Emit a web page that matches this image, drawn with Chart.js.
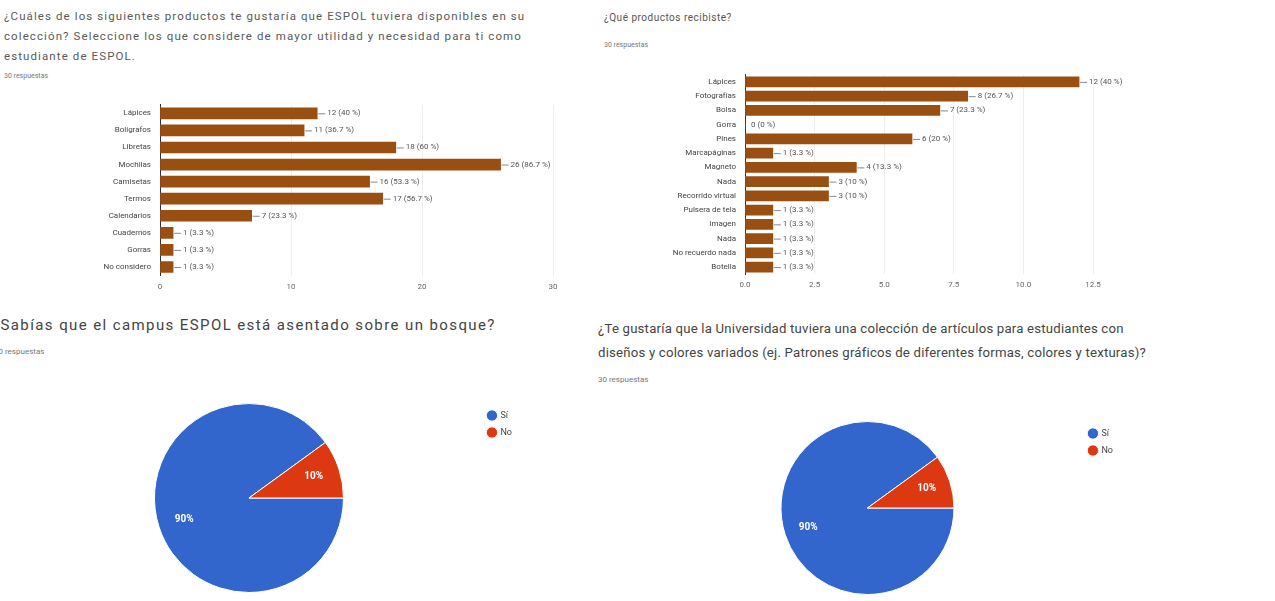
<!DOCTYPE html>
<html lang="es">
<head>
<meta charset="utf-8">
<script src="https://cdn.jsdelivr.net/npm/chart.js@4.4.0/dist/chart.umd.min.js"></script>
<style>
  html,body{margin:0;padding:0;background:#fff;width:1275px;height:601px;overflow:hidden;font-family:Roboto,"Noto Sans",Arial,sans-serif;}
  .t{position:absolute;color:#4a4a4a;white-space:nowrap;}
  .s{position:absolute;color:#777;font-size:7px;}
  canvas{position:absolute;}
</style>
</head>
<body>
<div class="t" style="left:4px;top:6px;font-size:11.5px;letter-spacing:1.1px;line-height:20px;color:#5a5a5a">¿Cuáles de los siguientes productos te gustaría que ESPOL tuviera disponibles en su<br>colección? Seleccione los que considere de mayor utilidad y necesidad para ti como<br>estudiante de ESPOL.</div>
<div class="s" style="left:4px;top:72px;">30 respuestas</div>

<div class="t" style="left:604px;top:12px;font-size:10px;letter-spacing:0.5px;color:#555">¿Qué productos recibiste?</div>
<div class="s" style="left:604px;top:41px;">30 respuestas</div>

<div class="t" style="left:-8px;top:316px;font-size:15px;letter-spacing:1.4px;color:#444">¿Sabías que el campus ESPOL está asentado sobre un bosque?</div>
<div class="s" style="left:-6px;top:347px;font-size:8px">30 respuestas</div>

<div class="t" style="left:598px;top:317px;font-size:13.2px;letter-spacing:0.2px;line-height:24px;color:#444">¿Te gustaría que la Universidad tuviera una colección de artículos para estudiantes con<br>diseños y colores variados (ej. Patrones gráficos de diferentes formas, colores y texturas)?</div>
<div class="s" style="left:598px;top:375px;font-size:8px">30 respuestas</div>

<canvas id="c1" style="left:0;top:91px;width:600px;height:209px" width="600" height="209"></canvas>
<canvas id="c2" style="left:600px;top:61px;width:675px;height:234px" width="675" height="234"></canvas>
<canvas id="c3" style="left:18px;top:403px;width:504px;height:190px" width="504" height="190"></canvas>
<canvas id="c4" style="left:654px;top:421px;width:469px;height:174px" width="469" height="174"></canvas>

<script>
// ---- Data ----
const productosDeseados = ["Lápices","Bolígrafos","Libretas","Mochilas","Camisetas","Termos","Calendarios","Cuadernos","Gorras","No considero"];
const votosDeseados = [12,11,18,26,16,17,7,1,1,1];
const ticksDeseados = [0,10,20,30];

const productosRecibidos = ["Lápices","Fotografías","Bolsa","Gorra","Pines","Marcapáginas","Magneto","Nada","Recorrido virtual","Pulsera de tela","Imagen","Nada","No recuerdo nada","Botella"];
const votosRecibidos = [12,8,7,0,6,1,4,3,3,1,1,1,1,1];

const respuestasBosque = ["Sí","No"];
const valoresBosque = [90,10];

const respuestasColeccion = ["Sí","No"];
const valoresColeccion = [90,10];

const totalRespuestas = 30;

const BROWN = '#9a4f12';
const FONT = 'Roboto, "Noto Sans", Arial, sans-serif';

// label plugin for horizontal bars
const barLabels = {
  id:'barLabels',
  afterDatasetsDraw(chart){
    const ctx = chart.ctx;
    const meta = chart.getDatasetMeta(0);
    const data = chart.data.datasets[0].data;
    ctx.save();
    ctx.font = '8px ' + FONT;
    ctx.fillStyle = '#555';
    ctx.strokeStyle = '#888';
    ctx.lineWidth = 1;
    ctx.textBaseline = 'middle';
    meta.data.forEach((bar,i)=>{
      const v = data[i];
      const pct = (v/totalRespuestas*100);
      const p = Number.isInteger(pct) ? pct.toFixed(0) : pct.toFixed(1);
      const txt = v + ' (' + p + ' %)';
      let x = bar.x, y = bar.y;
      if (v > 0) {
        ctx.beginPath(); ctx.moveTo(x+1, y+0.5); ctx.lineTo(x+8, y+0.5); ctx.stroke();
        ctx.fillText(txt, x+10, y);
      } else {
        ctx.fillText(txt, x+6, y);
      }
    });
    ctx.restore();
  }
};

function barChart(id, labels, values, max, step, yWidth, xHeight, padTop, padRight, thick, tickPad){
  return new Chart(document.getElementById(id), {
    type:'bar',
    data:{labels:labels, datasets:[{data:values, backgroundColor:BROWN, borderWidth:0, barThickness:thick}]},
    options:{
      indexAxis:'y', responsive:false, animation:false,
      layout:{padding:{top:padTop,right:padRight,left:0,bottom:0}},
      plugins:{legend:{display:false}, tooltip:{enabled:false}},
      scales:{
        x:{min:0,max:max,ticks:{stepSize:step,color:'#666',font:{size:8,family:FONT},padding:tickPad,
             callback:(v)=> step%1 ? v.toFixed(1) : v},
           grid:{color:'#eeeeee',drawTicks:false}, border:{display:false},
           afterFit(s){s.height = xHeight;}},
        y:{ticks:{color:'#444',font:{size:8,family:FONT},padding:9,autoSkip:false},
           grid:{display:false,drawTicks:false}, border:{color:'#333',width:1},
           afterFit(s){s.width = yWidth;}}
      }
    },
    plugins:[barLabels]
  });
}

barChart('c1', productosDeseados, votosDeseados, 30, 10, 160, 24.5, 0, 47, 11, 7);
barChart('c2', productosRecibidos, votosRecibidos, 12.5, 2.5, 145, 20.8, 0, 182, 10, 6);

const pieLabels = {
  id:'pieLabels',
  afterDatasetsDraw(chart){
    const ctx = chart.ctx;
    const meta = chart.getDatasetMeta(0);
    const data = chart.data.datasets[0].data;
    const total = data.reduce((a,b)=>a+b,0);
    ctx.save();
    ctx.font = 'bold 10px ' + FONT;
    ctx.fillStyle = '#fff';
    ctx.textAlign = 'center'; ctx.textBaseline = 'middle';
    meta.data.forEach((arc,i)=>{
      const mid = (arc.startAngle + arc.endAngle)/2;
      const r = arc.outerRadius*0.72;
      ctx.fillText(Math.round(data[i]/total*100)+'%', arc.x + Math.cos(mid)*r, arc.y + Math.sin(mid)*r);
    });
    ctx.restore();
  }
};

function pieChart(id, labels, values){
  return new Chart(document.getElementById(id), {
    type:'pie',
    data:{labels:labels, datasets:[{data:values, backgroundColor:['#3366cc','#dc3912'], borderColor:'#fff', borderWidth:1}]},
    options:{
      responsive:false, animation:false, rotation:90,
      plugins:{
        tooltip:{enabled:false},
        legend:{position:'right', align:'start',
          labels:{usePointStyle:true, pointStyle:'circle', boxWidth:8, boxHeight:8, padding:8,
                  color:'#444', font:{size:9,family:FONT}}}
      }
    },
    plugins:[pieLabels]
  });
}
pieChart('c3', respuestasBosque, valoresBosque);
pieChart('c4', respuestasColeccion, valoresColeccion);
</script>
</body>
</html>
